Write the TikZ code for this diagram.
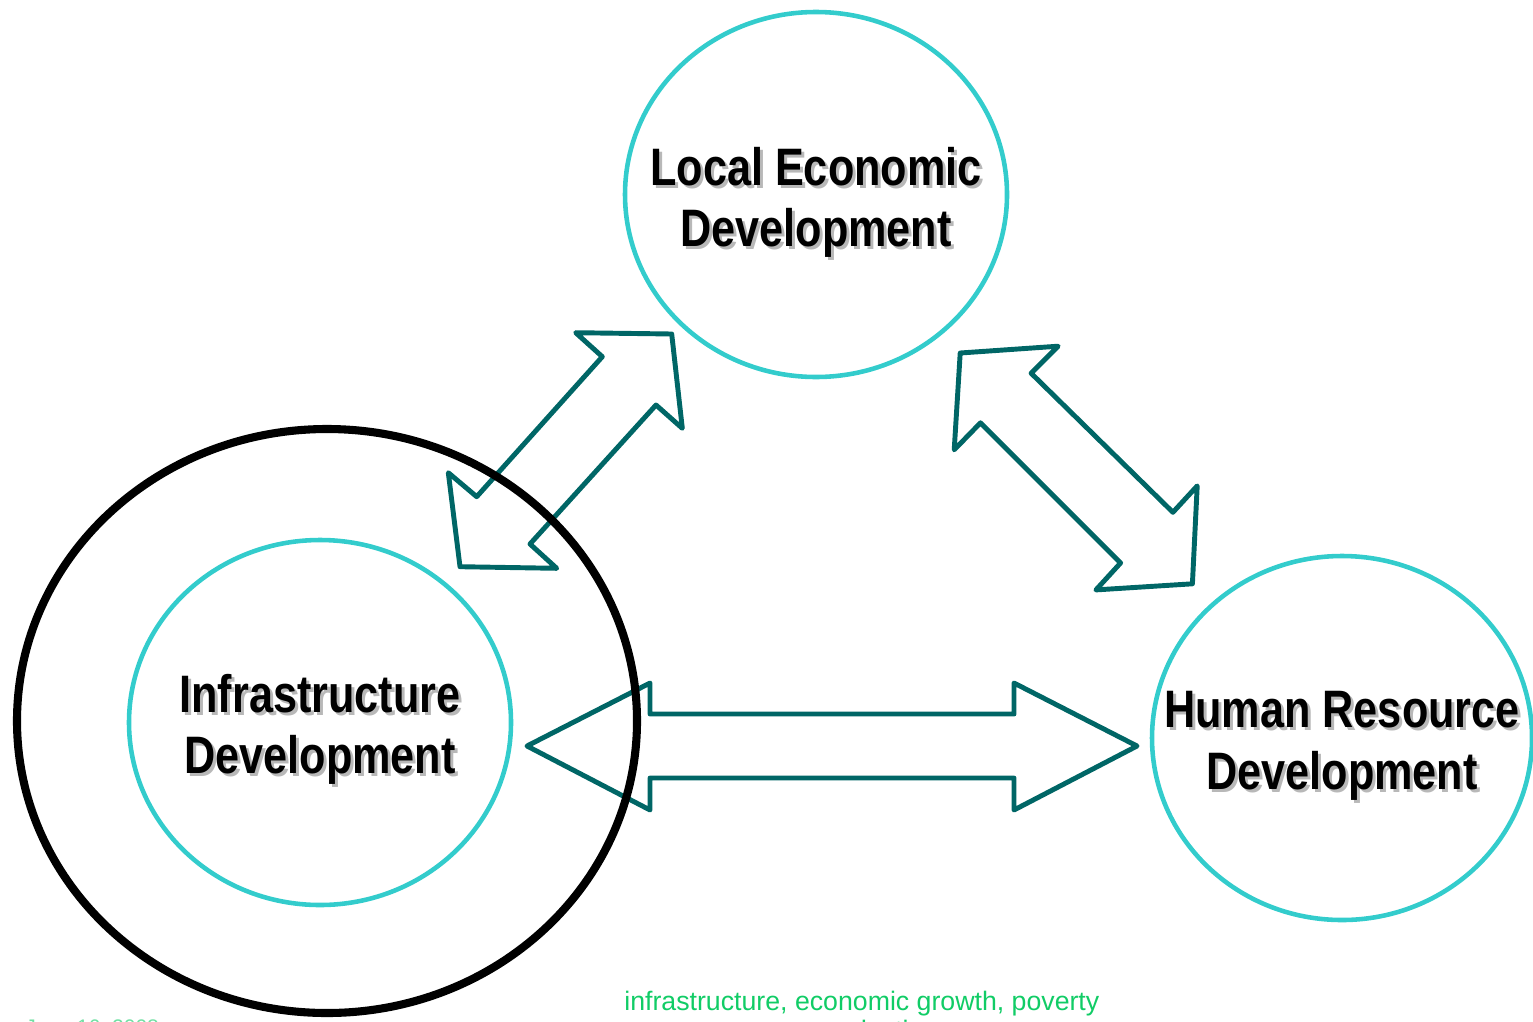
\documentclass[tikz,border=0pt]{standalone}
\usepackage{fontspec}
\setmainfont{Liberation Sans}
\newfontfamily\lblfont{Liberation Sans Bold}[FakeStretch=0.82]
\usepackage{tikz}

\definecolor{ringcyan}{HTML}{33CCCC}
\definecolor{arrowteal}{HTML}{006666}
\definecolor{notegreen}{HTML}{11CC66}

\tikzset{
  ring/.style={ringcyan, line width=2.6pt},
  blockarrow/.style={arrowteal, line width=2.8pt, line join=round},
  lbl/.style={align=center, inner sep=0pt, font=\lblfont\fontsize{30}{35}\selectfont},
  lblshadow/.style={lbl, text=black!28},
}

\begin{document}
\begin{tikzpicture}[x=0.02cm, y=-0.02cm]
\useasboundingbox (0,0) rectangle (1533,1021);
\clip (0,0) rectangle (1533,1021);

\coordinate (led) at (816,194.5);
\coordinate (infra) at (320,722.5);
\coordinate (hrd) at (1342,738);

\draw[ring] (led) ellipse [x radius=191, y radius=182.5];
\draw[ring] (infra) ellipse [x radius=191, y radius=182.5];
\draw[ring] (hrd) ellipse [x radius=190, y radius=182];

\node[lblshadow] at ([shift={(3,11)}]led) {Local Economic\\Development};
\node[lbl] (ledtext) at ([shift={(0,8)}]led) {Local Economic\\Development};
\node[lblshadow] at ([shift={(3,10)}]infra) {Infrastructure\\Development};
\node[lbl] (infratext) at ([shift={(0,7)}]infra) {Infrastructure\\Development};
\node[lblshadow] at ([shift={(3,11)}]hrd) {Human Resource\\Development};
\node[lbl] (hrdtext) at ([shift={(0,8)}]hrd) {Human Resource\\Development};

% block arrows
\draw[blockarrow] (671.7,334) -- (682.3,428.3) -- (656,405) -- (530,544) -- (556.7,568.3)
  -- (460,566.7) -- (448.3,472.7) -- (476.7,496.7) -- (602.3,356.7) -- (575.7,332.7) -- cycle;
\draw[blockarrow] (960.2,353) -- (1058.1,346.2) -- (1031.1,373.2) -- (1172.9,512.3) -- (1197.2,485.9)
  -- (1192.4,583.8) -- (1095.9,589.9) -- (1120.6,562.9) -- (980.5,422.8) -- (954.2,449.8) -- cycle;
\draw[blockarrow] (527,746) -- (650,683) -- (650,714) -- (1014,714) -- (1014,683) -- (1137,746)
  -- (1014,810) -- (1014,778) -- (650,778) -- (650,810) -- cycle;

\draw[line width=4.6pt] (327,721) ellipse [x radius=310, y radius=292];

\node[notegreen, anchor=base west, inner sep=0pt, font=\fontsize{15.2}{18}\selectfont] (keywords) at (624,1010) {infrastructure, economic growth, poverty};
\node[notegreen, anchor=base west, inner sep=0pt, font=\fontsize{15.2}{18}\selectfont] (keywords2) at (828,1039) {reduction};
\node[notegreen!60, anchor=base west, inner sep=0pt, font=\fontsize{12}{14}\selectfont] (date) at (25,1034) {June 16, 2008};
\end{tikzpicture}
\end{document}
